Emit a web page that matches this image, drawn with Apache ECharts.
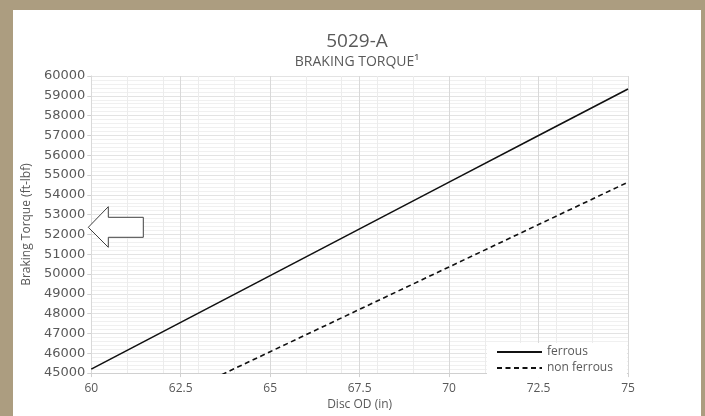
<!DOCTYPE html>
<html>
<head>
<meta charset="utf-8">
<script src="https://cdn.jsdelivr.net/npm/echarts@6/dist/echarts.min.js"></script>
<style>
html,body{margin:0;padding:0;width:705px;height:416px;background:#ac9d80;overflow:hidden;}
#panel{position:absolute;left:13px;top:10px;width:688px;height:406px;background:#ffffff;}
#chart{width:688px;height:406px;}
</style>
</head>
<body>
<div id="panel"><div id="chart"></div></div>
<script>
const title = '5029-A';
const subtitle = 'BRAKING TORQUE\u00B9';
const discOD = [60, 62.5, 65, 67.5, 70, 72.5, 75];
const ferrous = [45200, 47560, 49920, 52280, 54640, 57000, 59340];
const nonFerrous = [41800, 43940, 46080, 48220, 50360, 52500, 54640];
const seriesNames = ['ferrous', 'non ferrous'];
const xName = 'Disc OD (in)';
const yName = 'Braking Torque (ft-lbf)';

const font = '"Open Sans", "Noto Sans", sans-serif';
const textColor = '#595959';

const chart = echarts.init(document.getElementById('chart'), null, {renderer: 'canvas'});
const pair = (xs, ys) => xs.map((x, i) => [x, ys[i]]);

chart.setOption({
  animation: false,
  title: {
    text: title,
    subtext: subtitle,
    left: 'center',
    top: 17,
    itemGap: 4,
    textStyle: {fontFamily: font, fontSize: 19, fontWeight: 'normal', color: textColor},
    subtextStyle: {fontFamily: font, fontSize: 14, color: textColor}
  },
  grid: {left: 74, right: 73, top: 66, bottom: 39},
  legend: {
    orient: 'vertical',
    left: 474,
    top: 333,
    padding: [2, 14, 2, 9],
    backgroundColor: '#ffffff',
    itemWidth: 45,
    itemHeight: 14,
    itemGap: 2,
    itemStyle: {opacity: 0},
    textStyle: {fontFamily: font, fontSize: 12, color: textColor, lineHeight: 14},
    data: seriesNames
  },
  xAxis: [{
    type: 'value',
    min: 60, max: 75, interval: 2.5,
    name: xName,
    nameLocation: 'middle',
    nameGap: 25,
    nameTextStyle: {fontFamily: font, fontSize: 12, color: textColor},
    axisLine: {show: true, lineStyle: {color: '#d0d0d0'}},
    axisTick: {show: true, length: 4, lineStyle: {color: '#d0d0d0'}},
    axisLabel: {fontFamily: font, fontSize: 12, color: textColor, margin: 9},
    splitLine: {show: true, lineStyle: {color: '#d9d9d9'}},
    z: 3
  }, {
    type: 'value',
    min: 60, max: 75, interval: 1,
    position: 'bottom',
    axisLine: {show: false},
    axisTick: {show: false},
    axisLabel: {show: false},
    splitLine: {show: true, lineStyle: {color: '#ececec'}},
    z: 1
  }],
  yAxis: {
    type: 'value',
    min: 45000, max: 60000, interval: 1000,
    name: yName,
    nameLocation: 'middle',
    nameGap: 58,
    nameTextStyle: {fontFamily: font, fontSize: 12, color: textColor},
    axisLine: {show: true, lineStyle: {color: '#d0d0d0'}},
    axisTick: {show: true, length: 4, lineStyle: {color: '#d0d0d0'}},
    axisLabel: {fontFamily: '"DejaVu Sans", sans-serif', fontSize: 13, color: textColor, margin: 6,
      formatter: v => String(v)},
    splitLine: {show: true, lineStyle: {color: '#e3e3e3'}},
    minorTick: {show: false, splitNumber: 5},
    minorSplitLine: {show: true, lineStyle: {color: '#f0f0f0'}}
  },
  series: [{
    name: seriesNames[0],
    type: 'line',
    xAxisIndex: 0,
    data: pair(discOD, ferrous),
    symbol: 'none',
    lineStyle: {color: '#111111', width: 1.6, type: 'solid'},
    itemStyle: {color: '#111111'},
    z: 5
  }, {
    name: seriesNames[1],
    type: 'line',
    xAxisIndex: 0,
    data: pair(discOD, nonFerrous),
    symbol: 'none',
    lineStyle: {color: '#111111', width: 1.6, type: [5, 3.5]},
    itemStyle: {color: '#111111'},
    z: 5
  }],
  graphic: [{
    type: 'polygon',
    shape: {points: [[75.3, 217.3], [95.3, 196.7], [95.3, 207.3], [130.3, 207.3], [130.3, 227.3], [95.3, 227.3], [95.3, 237.3]]},
    style: {fill: '#ffffff', stroke: '#404040', lineWidth: 1},
    z: 100
  }]
});
</script>
</body>
</html>
